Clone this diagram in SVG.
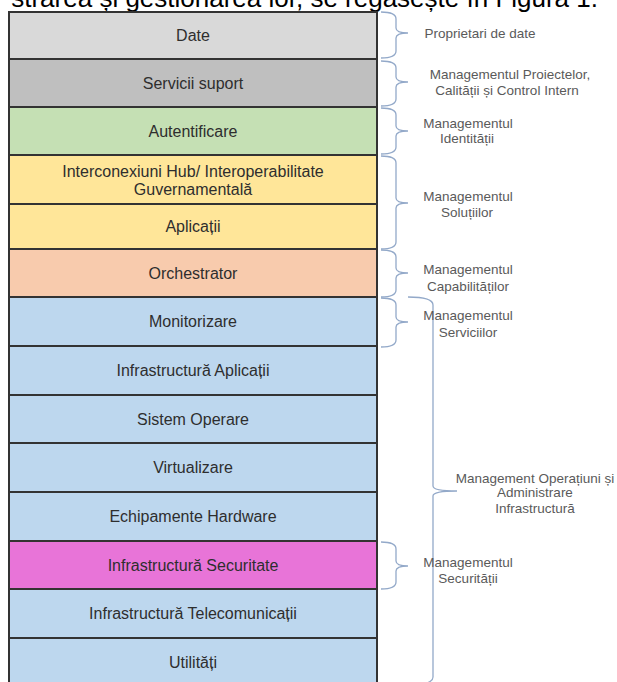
<svg xmlns="http://www.w3.org/2000/svg" width="617" height="682" viewBox="0 0 617 682">
<style>
.layer{stroke:#333;stroke-width:2}
.lt{font-family:"Liberation Sans",Arial,sans-serif;font-size:16px;fill:#2e2e2e;text-anchor:middle}
.ann{font-family:"Liberation Sans",Arial,sans-serif;font-size:13.5px;fill:#5a5a5a;text-anchor:middle}
.brace{fill:none;stroke:#93a9c9;stroke-width:1.3}
.top{font-family:"Liberation Sans",Arial,sans-serif;font-size:26px;fill:#000;text-anchor:end}
</style>
<rect width="617" height="682" fill="#fff"/>
<text class="top" x="598" y="7">strarea și gestionarea lor, se regăsește în Figura 1.</text>

<g id="layer-date"><rect class="layer" x="9" y="12" width="368" height="47" fill="#d9d9d9"/><text class="lt" x="193" y="41">Date</text></g>
<g id="layer-servicii-suport"><rect class="layer" x="9" y="59" width="368" height="48" fill="#bfbfbf"/><text class="lt" x="193" y="89">Servicii suport</text></g>
<g id="layer-autentificare"><rect class="layer" x="9" y="107" width="368" height="48" fill="#c5e0b4"/><text class="lt" x="193" y="137">Autentificare</text></g>
<g id="layer-interconexiuni"><rect class="layer" x="9" y="155" width="368" height="49" fill="#ffe699"/><text class="lt" x="193" y="177">Interconexiuni Hub/ Interoperabilitate</text><text class="lt" x="193" y="195">Guvernamentală</text></g>
<g id="layer-aplicatii"><rect class="layer" x="9" y="204" width="368" height="45" fill="#ffe699"/><text class="lt" x="193" y="232">Aplicații</text></g>
<g id="layer-orchestrator"><rect class="layer" x="9" y="249" width="368" height="48" fill="#f8cbad"/><text class="lt" x="193" y="279">Orchestrator</text></g>
<g id="layer-monitorizare"><rect class="layer" x="9" y="297" width="368" height="49" fill="#bdd7ee"/><text class="lt" x="193" y="327">Monitorizare</text></g>
<g id="layer-infra-aplicatii"><rect class="layer" x="9" y="346" width="368" height="49" fill="#bdd7ee"/><text class="lt" x="193" y="376">Infrastructură Aplicații</text></g>
<g id="layer-sistem-operare"><rect class="layer" x="9" y="395" width="368" height="48" fill="#bdd7ee"/><text class="lt" x="193" y="425">Sistem Operare</text></g>
<g id="layer-virtualizare"><rect class="layer" x="9" y="443" width="368" height="49" fill="#bdd7ee"/><text class="lt" x="193" y="473">Virtualizare</text></g>
<g id="layer-echipamente"><rect class="layer" x="9" y="492" width="368" height="49" fill="#bdd7ee"/><text class="lt" x="193" y="522">Echipamente Hardware</text></g>
<g id="layer-infra-securitate"><rect class="layer" x="9" y="541" width="368" height="48" fill="#e874d8"/><text class="lt" x="193" y="571">Infrastructură Securitate</text></g>
<g id="layer-infra-telecom"><rect class="layer" x="9" y="589" width="368" height="49" fill="#bdd7ee"/><text class="lt" x="193" y="619">Infrastructură Telecomunicații</text></g>
<g id="layer-utilitati"><rect class="layer" x="9" y="638" width="368" height="50" fill="#bdd7ee"/><text class="lt" x="193" y="668">Utilități</text></g>

<g id="connectors">
<path class="brace" d="M381,12 Q396,12 396,19 L396,28 Q396,33 408,33 Q396,33 396,38 L396,51 Q396,58 381,58"/>
<path class="brace" d="M381,61 Q396,61 396,68 L396,77 Q396,82 408,82 Q396,82 396,87 L396,99 Q396,106 381,106"/>
<path class="brace" d="M381,108 Q396,108 396,115 L396,126 Q396,131 408,131 Q396,131 396,136 L396,147 Q396,154 381,154"/>
<path class="brace" d="M381,156 Q396,156 396,163 L396,198 Q396,203 408,203 Q396,203 396,208 L396,242 Q396,249 381,249"/>
<path class="brace" d="M381,250 Q396,250 396,257 L396,268 Q396,273 408,273 Q396,273 396,278 L396,290 Q396,297 381,297"/>
<path class="brace" d="M381,298 Q396,298 396,305 L396,317 Q396,322 408,322 Q396,322 396,327 L396,340 Q396,347 381,347"/>
<path class="brace" d="M408,297 Q433,297 433,305 L433,486 Q433,491 457,491 Q433,491 433,496 L433,677 Q433,685 408,685"/>
<path class="brace" d="M381,542 Q396,542 396,549 L396,561 Q396,566 408,566 Q396,566 396,571 L396,582 Q396,589 381,589"/>
</g>

<g id="label-proprietari"><text class="ann" x="480" y="38">Proprietari de date</text></g>
<g id="label-proiecte"><text class="ann" x="510" y="79">Managementul Proiectelor,</text><text class="ann" x="507" y="95">Calității și Control Intern</text></g>
<g id="label-identitate"><text class="ann" x="468" y="128">Managementul</text><text class="ann" x="467" y="143">Identității</text></g>
<g id="label-solutii"><text class="ann" x="468" y="201">Managementul</text><text class="ann" x="467" y="217">Soluțiilor</text></g>
<g id="label-capabilitati"><text class="ann" x="468" y="274">Managementul</text><text class="ann" x="468" y="291">Capabilităților</text></g>
<g id="label-servicii"><text class="ann" x="468" y="320">Managementul</text><text class="ann" x="468" y="337">Serviciilor</text></g>
<g id="label-operatiuni"><text class="ann" x="535" y="483">Management Operațiuni și</text><text class="ann" x="535" y="497">Administrare</text><text class="ann" x="535" y="513">Infrastructură</text></g>
<g id="label-securitate"><text class="ann" x="468" y="567">Managementul</text><text class="ann" x="468" y="583">Securității</text></g>
</svg>
